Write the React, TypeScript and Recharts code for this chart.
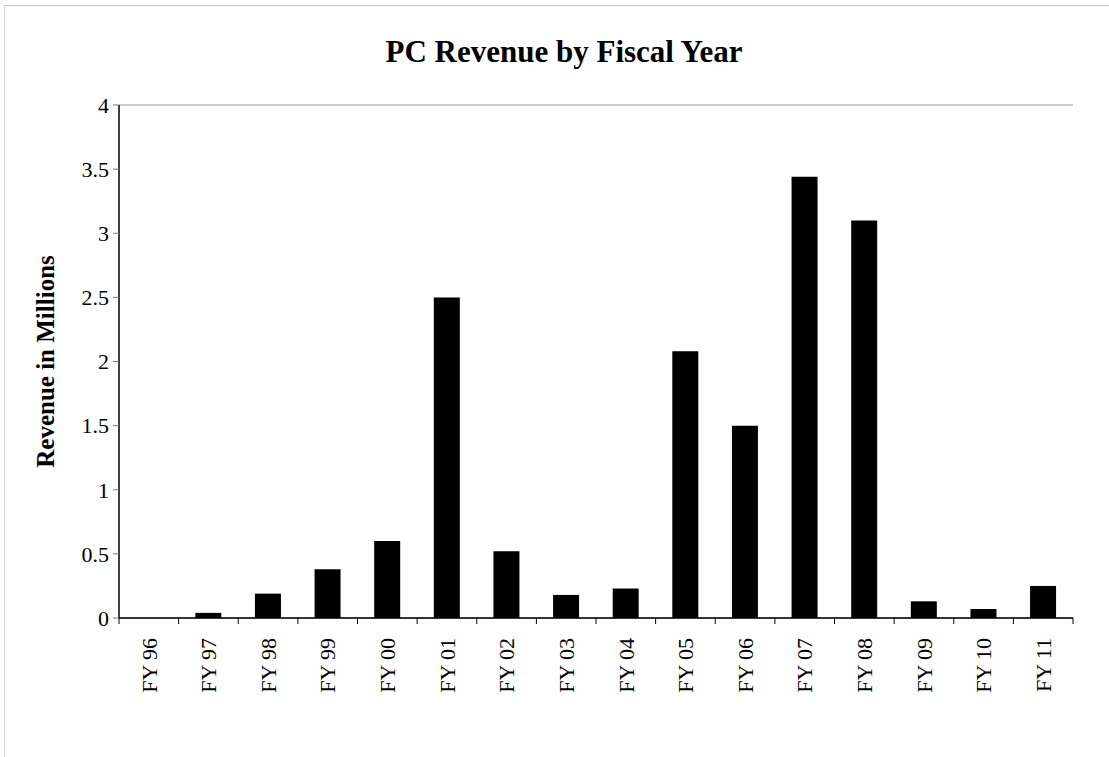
import React from "react";
import { BarChart, Bar, XAxis, YAxis, CartesianGrid } from "recharts";

const fiscalYears = [
  "FY 96", "FY 97", "FY 98", "FY 99", "FY 00", "FY 01", "FY 02", "FY 03",
  "FY 04", "FY 05", "FY 06", "FY 07", "FY 08", "FY 09", "FY 10", "FY 11",
];
const revenueMillions = [
  0, 0.04, 0.19, 0.38, 0.6, 2.5, 0.52, 0.18,
  0.23, 2.08, 1.5, 3.44, 3.1, 0.13, 0.07, 0.25,
];
const revenueTicks = [0, 0.5, 1, 1.5, 2, 2.5, 3, 3.5, 4];

const chartData = fiscalYears.map((fy, i) => ({ fy, revenue: revenueMillions[i] }));

const W = 1109;
const H = 757;
const FONT = '"Liberation Serif", "DejaVu Serif", serif';

// rotated category label plus the tick mark on the band boundary
function FyTick(props: any) {
  const { x, y, payload, index } = props;
  const band = 954 / fiscalYears.length;
  const half = band / 2;
  return (
    <g>
      <line x1={x - half} y1={y - 8} x2={x - half} y2={y - 2} stroke="#000" />
      {index === fiscalYears.length - 1 && (
        <line x1={x + half} y1={y - 8} x2={x + half} y2={y - 2} stroke="#000" />
      )}
      <g transform={`translate(${x},${y + 12}) rotate(-90)`}>
        <text x={0} y={0} dy="0.35em" textAnchor="end" fontSize={22} fontFamily={FONT} fill="#000">
          {payload.value}
        </text>
      </g>
    </g>
  );
}

function AxisTitle(props: any) {
  const { viewBox } = props;
  const cx = 45;
  const cy = viewBox.y + viewBox.height / 2;
  return (
    <text
      x={cx}
      y={cy}
      transform={`rotate(-90, ${cx}, ${cy})`}
      textAnchor="middle"
      dominantBaseline="central"
      fontSize={25}
      fontWeight="bold"
      fontFamily={FONT}
      fill="#000"
    >
      Revenue in Millions
    </text>
  );
}

export default function App() {
  return (
    <div
      style={{
        position: "absolute",
        left: 0,
        top: 0,
        width: W,
        height: H,
        background: "#fff",
        fontFamily: FONT,
      }}
    >
      <div
        style={{
          position: "absolute",
          left: 4,
          top: 5,
          width: W - 4,
          height: H - 5,
          borderTop: "1px solid #c4c4c4",
          borderLeft: "1px solid #d4d4d4",
        }}
      />
      <div
        style={{
          position: "absolute",
          left: 0,
          top: 34,
          width: 1128,
          textAlign: "center",
          fontSize: 31,
          fontWeight: "bold",
          lineHeight: "36px",
        }}
      >
        PC Revenue by Fiscal Year
      </div>
      <BarChart
        width={W}
        height={H}
        data={chartData}
        margin={{ top: 105, right: 36, bottom: 39, left: 49 }}
        barCategoryGap="28%"
        style={{ position: "absolute", left: 0, top: 0 }}
      >
        <CartesianGrid vertical={false} stroke="#9a9a9a" />
        <XAxis
          dataKey="fy"
          xAxisId="bottom"
          height={100}
          interval={0}
          tickLine={false}
          axisLine={{ stroke: "#000", strokeWidth: 1.5 }}
          tick={<FyTick />}
        />
        <XAxis xAxisId="top" orientation="top" height={0} tick={false} tickLine={false} axisLine={{ stroke: "#555" }} />
        <YAxis
          yAxisId="left"
          width={70}
          domain={[0, 4]}
          ticks={revenueTicks}
          tickSize={6}
          tickLine={{ stroke: "#777" }}
          axisLine={{ stroke: "#000", strokeWidth: 1.5 }}
          tick={{ fontSize: 22, fill: "#000", fontFamily: FONT }}
          tickMargin={4}
          label={<AxisTitle />}
        />
        <YAxis yAxisId="right" orientation="right" width={0} tick={false} tickLine={false} axisLine={{ stroke: "#000" }} domain={[0, 4]} />
        <Bar dataKey="revenue" xAxisId="bottom" yAxisId="left" fill="#000" isAnimationActive={false} />
      </BarChart>
    </div>
  );
}
